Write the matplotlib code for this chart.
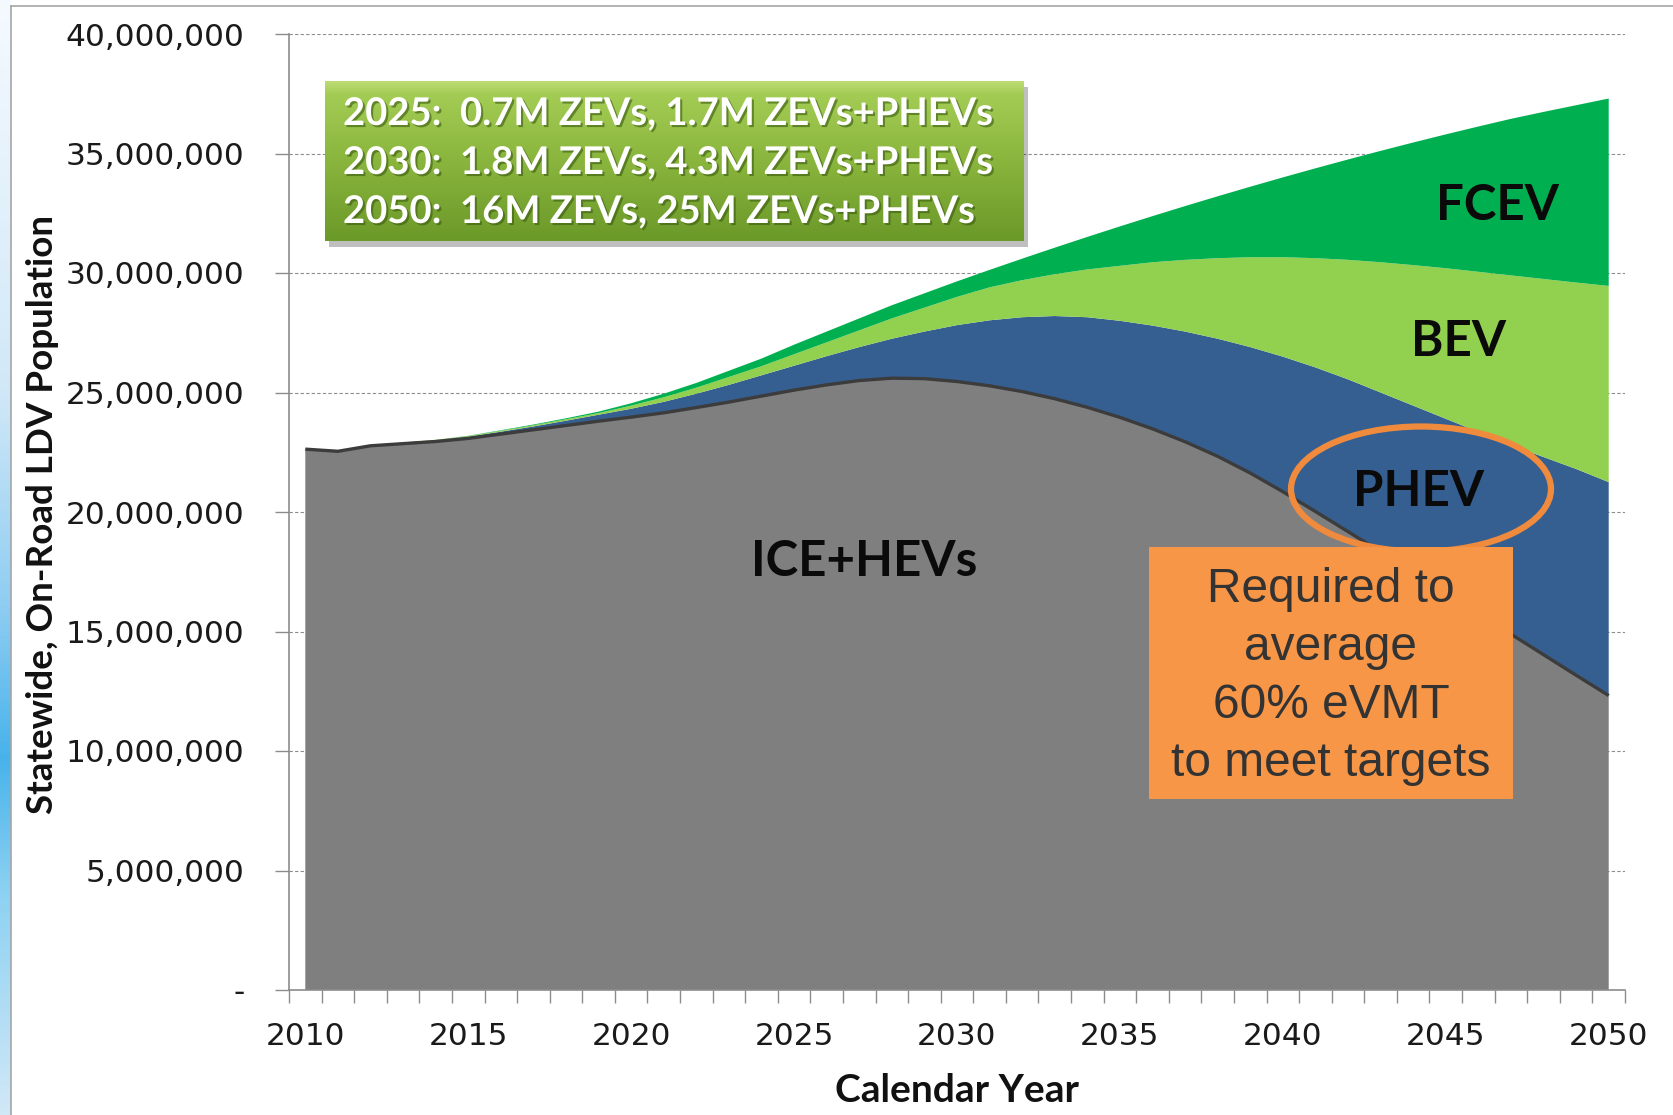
import numpy as np
import matplotlib
matplotlib.use("Agg")
import matplotlib.pyplot as plt
from matplotlib.patches import Rectangle, Ellipse
from matplotlib.ticker import FuncFormatter, MultipleLocator
import matplotlib.patheffects as pe

# ---- data (millions of vehicles) ----
years = list(range(2010, 2051))
ice_hev = [22.63, 22.54, 22.77, 22.86, 22.95, 23.08, 23.26, 23.44, 23.62, 23.80,
           23.97, 24.15, 24.37, 24.60, 24.85, 25.10, 25.32, 25.50, 25.60, 25.58,
           25.46, 25.28, 25.04, 24.74, 24.38, 23.96, 23.48, 22.94, 22.33, 21.63,
           20.85, 20.02, 19.18, 18.33, 17.47, 16.61, 15.75, 14.89, 14.03, 13.17, 12.32]
phev = [0.00, 0.01, 0.02, 0.04, 0.05, 0.07, 0.10, 0.14, 0.20, 0.27,
        0.35, 0.46, 0.58, 0.72, 0.87, 1.02, 1.20, 1.40, 1.65, 1.97,
        2.36, 2.74, 3.11, 3.46, 3.77, 4.04, 4.32, 4.61, 4.92, 5.27,
        5.65, 6.03, 6.37, 6.67, 6.98, 7.29, 7.60, 7.91, 8.27, 8.63, 8.93]
bev = [0.00, 0.00, 0.01, 0.01, 0.02, 0.03, 0.04, 0.05, 0.06, 0.07,
       0.13, 0.19, 0.25, 0.33, 0.38, 0.48, 0.58, 0.70, 0.85, 1.00,
       1.18, 1.38, 1.55, 1.75, 2.00, 2.30, 2.65, 3.00, 3.37, 3.76,
       4.16, 4.57, 5.00, 5.45, 5.88, 6.30, 6.70, 7.10, 7.45, 7.80, 8.21]
fcev = [0.00, 0.00, 0.00, 0.00, 0.00, 0.01, 0.02, 0.03, 0.04, 0.06,
        0.10, 0.15, 0.20, 0.26, 0.32, 0.40, 0.45, 0.50, 0.55, 0.60,
        0.65, 0.73, 0.90, 1.11, 1.36, 1.65, 1.93, 2.25, 2.59, 2.95,
        3.34, 3.76, 4.20, 4.66, 5.13, 5.60, 6.08, 6.55, 6.99, 7.42, 7.84]
series_names = ["ICE+HEVs", "PHEV", "BEV", "FCEV"]
x_tick_years = list(range(2010, 2051, 5))
summary_lines = ["2025:  0.7M ZEVs, 1.7M ZEVs+PHEVs",
                 "2030:  1.8M ZEVs, 4.3M ZEVs+PHEVs",
                 "2050:  16M ZEVs, 25M ZEVs+PHEVs"]
note_lines = ["Required to", "average", "60% eVMT", "to meet targets"]

# ---- figure ----
W, H = 1673, 1115
fig = plt.figure(figsize=(W / 100, H / 100), dpi=100)
fig.patch.set_facecolor("white")


def fx(x):
    return x / W


def fy(y):
    return 1 - y / H


# slide decoration at left edge + chart frame
deco = fig.add_axes([0, 0, fx(11), 1])
g = np.linspace(0, 1, 300)
stops = [0, 0.35, 0.55, 0.68, 0.80, 1.0]
r = np.interp(g, stops, [0.96, 0.82, 0.55, 0.28, 0.55, 0.82])
gg = np.interp(g, stops, [0.98, 0.91, 0.80, 0.70, 0.82, 0.91])
b = np.interp(g, stops, [1.00, 0.97, 0.95, 0.92, 0.95, 0.97])
img = np.stack([r, gg, b], axis=1)[:, None, :]
deco.imshow(img, aspect="auto", extent=[0, 1, 0, 1], origin="upper")
deco.axis("off")
fig.add_artist(plt.Line2D([fx(11), fx(11)], [0, fy(6)], color="#a6a6a6", lw=1.2))
fig.add_artist(plt.Line2D([fx(11), 1], [fy(6), fy(6)], color="#a6a6a6", lw=1.2))

ax = fig.add_axes([fx(289), fy(990), (1625 - 289) / W, (990 - 34) / H])
scale = 1e6
ys = [np.array(s) * scale for s in (ice_hev, phev, bev, fcev)]
colors = ["#7f7f7f", "#365f91", "#92d050", "#00b050"]
ax.stackplot(years, *ys, colors=colors, labels=series_names, linewidth=0, zorder=2)
ax.plot(years, ys[0], color="#3c3c3c", lw=2.4, zorder=3, solid_capstyle="butt")

ax.set_xlim(2009.5, 2050.5)
ax.set_ylim(0, 40e6)
ax.yaxis.set_major_locator(MultipleLocator(5e6))
ax.yaxis.set_major_formatter(FuncFormatter(lambda v, p: "-" if v == 0 else f"{int(round(v)):,}"))
ax.set_xticks(x_tick_years)
ax.set_xticks(np.arange(2009.5, 2051, 1), minor=True)
ax.tick_params(axis="x", which="major", length=0, pad=23, labelsize=22.5, labelcolor="#1a1a1a")
ax.tick_params(axis="x", which="minor", length=9.5, width=1, color="#8c8c8c", direction="out")
ax.tick_params(axis="y", length=10, width=1, color="#8c8c8c", pad=22, labelsize=22.5, labelcolor="#1a1a1a")
ax.grid(axis="y", linestyle=(0, (3, 2)), color="#8c8c8c", lw=0.8)
ax.set_axisbelow(True)
for s in ("top", "right"):
    ax.spines[s].set_visible(False)
for s in ("left", "bottom"):
    ax.spines[s].set_color("#8c8c8c")
    ax.spines[s].set_linewidth(1.2)

# axis titles
fig.text(fx(43), fy(514), "Statewide, On-Road LDV Population", rotation=90,
         ha="center", va="center", fontsize=26.5, fontweight="bold", family="Lato", color="#111111")
fig.text(fx(957), fy(1090), "Calendar Year", ha="center", va="center",
         fontsize=28, fontweight="bold", family="Lato", color="#111111")

# series labels
lab_kw = dict(ha="center", va="center", fontsize=35.5, fontweight="bold", family="Lato", color="#0a0a0a")
fig.text(fx(1497), fy(205), "FCEV", **lab_kw)
fig.text(fx(1459), fy(341), "BEV", **lab_kw)
fig.text(fx(1419), fy(491), "PHEV", **lab_kw)
fig.text(fx(864), fy(562), "ICE+HEVs", **lab_kw)

# PHEV ellipse
fig.add_artist(Ellipse((fx(1421), fy(489)), 260 / W, 125 / H, transform=fig.transFigure,
                       fill=False, ec="#f08a3c", lw=4.5, zorder=5))

# orange note box
fig.add_artist(Rectangle((fx(1149), fy(799)), (1513 - 1149) / W, (799 - 547) / H,
                         transform=fig.transFigure, fc="#f79646", ec="none", zorder=5))
for yy, line in zip([590, 648, 705, 763], note_lines):
    fig.text(fx(1331), fy(yy), line, ha="center", va="center", fontsize=34.5,
             family="Liberation Sans", color="#333333", zorder=6)

# green summary box with gradient and shadow
bx0, by0, bx1, by1 = 325, 81, 1024, 241
fig.add_artist(Rectangle((fx(bx0 + 4), fy(by1 + 6)), (bx1 - bx0) / W, (by1 - by0) / H,
                         transform=fig.transFigure, fc="#000000", alpha=0.25, ec="none", zorder=4))
gax = fig.add_axes([fx(bx0), fy(by1), (bx1 - bx0) / W, (by1 - by0) / H], zorder=5)
t = np.linspace(0, 1, 100)
gr = np.interp(t, [0, 0.08, 0.5, 1.0], [0.74, 0.64, 0.54, 0.42])
gg2 = np.interp(t, [0, 0.08, 0.5, 1.0], [0.86, 0.80, 0.71, 0.60])
gb = np.interp(t, [0, 0.08, 0.5, 1.0], [0.45, 0.33, 0.24, 0.16])
gimg = np.repeat(np.stack([gr, gg2, gb], axis=1)[:, None, :], 2, axis=1)
gax.imshow(gimg, aspect="auto", extent=[0, 1, 0, 1], origin="upper")
gax.set_xlim(0, 1)
gax.set_ylim(0, 1)
gax.axis("off")
for yy, line in zip([114, 163, 212], summary_lines):
    fig.text(fx(343), fy(yy), line, ha="left", va="center", fontsize=27.5, fontweight="bold",
             family="Lato", color="white", zorder=7,
             path_effects=[pe.withSimplePatchShadow(offset=(1.5, -1.5), shadow_rgbFace="#3a5a10", alpha=0.6)])

fig.savefig("out.png", dpi=100, facecolor="white")
